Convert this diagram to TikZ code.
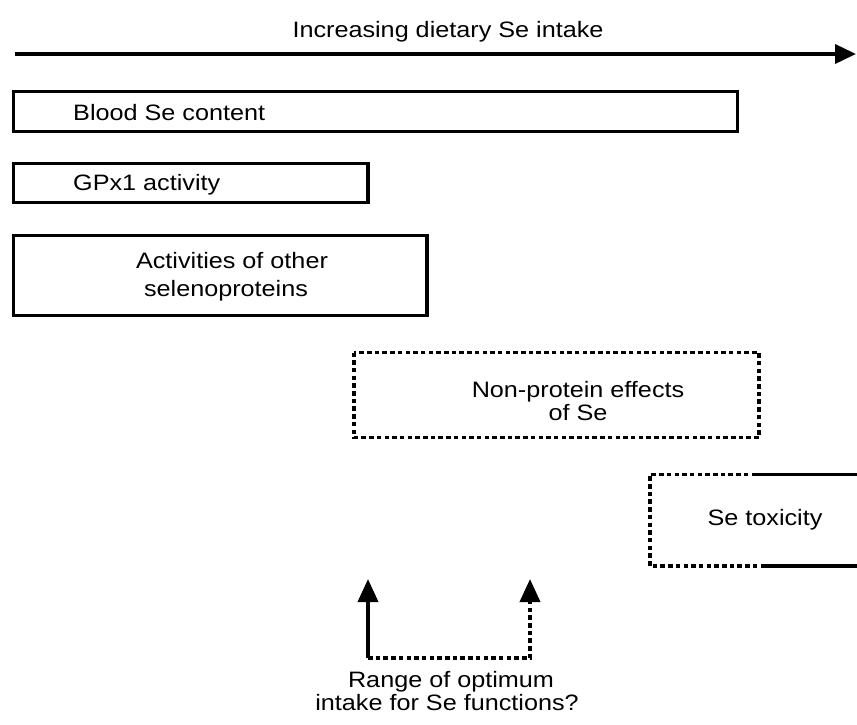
\documentclass[tikz,border=0pt]{standalone}
\usepackage{fontspec}
\setmainfont{Liberation Sans}[FakeStretch=1.13]
\usetikzlibrary{arrows.meta}
\tikzset{
  solidline/.style={line width=3.7pt, line cap=butt, line join=miter},
  dotline/.style={line width=3.7pt, dash pattern=on 4.5pt off 3.2pt},
  lbl/.style={inner sep=0pt, font=\fontsize{22.3}{26}\selectfont, text=black},
  bigtip/.style={-{Triangle[length=21pt,width=19pt]}},
  uptip/.style={-{Triangle[length=23pt,width=20pt]}}
}
\begin{document}
\begin{tikzpicture}[x=1pt,y=-1pt]
\useasboundingbox (0,0) rectangle (857,724);
% top arrow
\coordinate (aStart) at (15,54);
\coordinate (aEnd) at (856,54);
\draw[solidline, bigtip] (aStart) -- (aEnd);
\node[lbl, anchor=base] (title) at (448,37) {Increasing dietary Se intake};
% boxes
\draw[solidline] (13.5,91.5) rectangle (737.5,131.5);
\node[lbl, anchor=base west] (blood) at (73,120.5) {Blood Se content};
\draw[solidline] (13.5,163.5) rectangle (368,202.5);
\node[lbl, anchor=base west] (gpx) at (73,190) {GPx1 activity};
\draw[solidline] (13.5,235.5) rectangle (427,315.5);
\node[lbl, anchor=base] (act1) at (232,268) {Activities of other};
\node[lbl, anchor=base] (act2) at (226,296) {selenoproteins};
% non-protein
\draw[dotline] (354,352.5) rectangle (759,437.5);
\node[lbl, anchor=base] (np1) at (578,397) {Non-protein effects};
\node[lbl, anchor=base] (np2) at (578,420) {of Se};
% Se toxicity
\coordinate (tTL) at (650,474.5);
\coordinate (tBL) at (650,566);
\coordinate (tTM) at (756,474.5);
\coordinate (tBM) at (762,566);
\coordinate (tTR) at (858,474.5);
\coordinate (tBR) at (858,566);
\draw[dotline] (tTM) -- (tTL) -- (tBL) -- (tBM);
\draw[solidline] (tTM) -- (tTR);
\draw[solidline] (tBM) -- (tBR);
\node[lbl, anchor=base] (tox) at (765,525) {Se toxicity};
% bottom arrows
\coordinate (lB) at (368,658);
\coordinate (lT) at (368,579);
\coordinate (rB) at (530,658);
\coordinate (rT) at (530,579);
\draw[solidline, uptip] (lB) -- (lT);
\draw[dotline, uptip] (lB) -- (rB) -- (rT);
\node[lbl, anchor=base] (range1) at (451,687) {Range of optimum};
\node[lbl, anchor=base] (range2) at (447,710) {intake for Se functions?};
\end{tikzpicture}
\end{document}
